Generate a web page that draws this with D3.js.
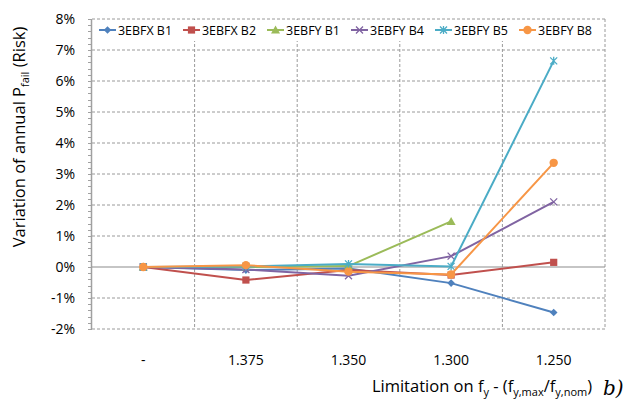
<!DOCTYPE html>
<html><head><meta charset="utf-8">
<script src="https://cdn.jsdelivr.net/npm/d3@7"></script>
<style>body{margin:0;background:#fff}svg{display:block}</style>
</head><body><svg id="c" width="623" height="405"></svg>
<script>
const categories = ["-", "1.375", "1.350", "1.300", "1.250"];
const seriesNames = ["3EBFX B1", "3EBFX B2", "3EBFY B1", "3EBFY B4", "3EBFY B5", "3EBFY B8"];
const s_3EBFX_B1 = [0, -0.10, -0.05, -0.52, -1.47];
const s_3EBFX_B2 = [0, -0.42, -0.10, -0.26, 0.15];
const s_3EBFY_B1 = [0, 0.00, 0.03, 1.47, null];
const s_3EBFY_B4 = [0, -0.08, -0.28, 0.35, 2.10];
const s_3EBFY_B5 = [0, 0.02, 0.10, 0.02, 6.65];
const s_3EBFY_B8 = [0, 0.06, -0.15, -0.24, 3.36];
const seriesValues = [s_3EBFX_B1, s_3EBFX_B2, s_3EBFY_B1, s_3EBFY_B4, s_3EBFY_B5, s_3EBFY_B8];
const yTicks = [-2, -1, 0, 1, 2, 3, 4, 5, 6, 7, 8];
const colors = ["#4F81BD", "#C0504D", "#9BBB59", "#8064A2", "#4BACC6", "#F79646"];
const markers = ["diamond", "square", "triangle", "x", "star", "circle"];

const svg = d3.select("#c");
const L = 92, R = 605, T = 19, B = 329;
const x = d3.scaleBand().domain(categories).range([L, R]);
const y = d3.scaleLinear().domain([-2, 8]).range([B, T]);
const font = "'Open Sans', 'Noto Sans', sans-serif";

// horizontal gridlines
svg.append("g").selectAll("line").data(yTicks.filter(d => d !== 0)).join("line")
  .attr("x1", L).attr("x2", R).attr("y1", d => y(d)).attr("y2", d => y(d))
  .attr("stroke", "#9a9a9a").attr("stroke-width", 1).attr("stroke-dasharray", "3,2");
// vertical gridlines
svg.append("g").selectAll("line").data(categories.slice(1).concat(["end"])).join("line")
  .attr("x1", (d, i) => L + x.bandwidth() * (i + 1)).attr("x2", (d, i) => L + x.bandwidth() * (i + 1))
  .attr("y1", T).attr("y2", B)
  .attr("stroke", "#9a9a9a").attr("stroke-width", 1).attr("stroke-dasharray", "3,2");

// left axis with minor ticks
const minor = d3.range(-2, 8.001, 0.2);
svg.append("g").selectAll("line").data(minor).join("line")
  .attr("x1", L - 4).attr("x2", L).attr("y1", d => Math.round(y(d)) + 0.5).attr("y2", d => Math.round(y(d)) + 0.5)
  .attr("stroke", "#a0a0a0").attr("stroke-width", 1);
svg.append("line").attr("x1", L - 0.5).attr("x2", L - 0.5).attr("y1", T).attr("y2", B)
  .attr("stroke", "#a0a0a0").attr("stroke-width", 1.5);
// zero axis line
svg.append("line").attr("x1", L).attr("x2", R).attr("y1", y(0)).attr("y2", y(0))
  .attr("stroke", "#8c8c8c").attr("stroke-width", 1.2);

// y tick labels
svg.append("g").selectAll("text").data(yTicks).join("text")
  .attr("x", 75).attr("y", d => y(d)).attr("dy", "0.35em").attr("text-anchor", "end")
  .attr("font-family", font).attr("font-size", 14).attr("fill", "#000")
  .text(d => d + "%");
// x tick labels
svg.append("g").selectAll("text").data(categories).join("text")
  .attr("x", d => x(d) + x.bandwidth() / 2).attr("y", 360).attr("dy", "0.35em").attr("text-anchor", "middle")
  .attr("font-family", font).attr("font-size", 14).attr("fill", "#000")
  .text(d => d);

// series
function drawMarker(g, type, color) {
  const s = 3.8;
  if (type === "diamond") g.append("path").attr("d", `M0,${-s}L${s},0L0,${s}L${-s},0Z`).attr("fill", color);
  else if (type === "square") g.append("rect").attr("x", -3.6).attr("y", -3.6).attr("width", 7.2).attr("height", 7.2).attr("fill", color);
  else if (type === "triangle") g.append("path").attr("d", `M0,-4.5L4.5,3.5L-4.5,3.5Z`).attr("fill", color);
  else if (type === "circle") g.append("circle").attr("r", 4.2).attr("fill", color);
  else if (type === "x") g.append("path").attr("d", "M-3.5,-3.5L3.5,3.5M-3.5,3.5L3.5,-3.5").attr("stroke", color).attr("stroke-width", 1.3);
  else if (type === "star") g.append("path").attr("d", "M-3.5,-3.5L3.5,3.5M-3.5,3.5L3.5,-3.5M0,-4L0,4").attr("stroke", color).attr("stroke-width", 1.3);
}
const line = d3.line().defined(d => d.v !== null).x(d => x(d.c) + x.bandwidth() / 2).y(d => y(d.v));
seriesValues.forEach((vals, i) => {
  const pts = vals.map((v, j) => ({ c: categories[j], v }));
  svg.append("path").datum(pts).attr("d", line).attr("fill", "none")
    .attr("stroke", colors[i]).attr("stroke-width", 2);
  pts.filter(p => p.v !== null).forEach(p => {
    const g = svg.append("g").attr("transform", `translate(${x(p.c) + x.bandwidth() / 2},${y(p.v)})`);
    drawMarker(g, markers[i], colors[i]);
  });
});

// legend
const leg = svg.append("g");
leg.append("rect").attr("x", 95).attr("y", 20).attr("width", 502).attr("height", 21).attr("fill", "#fff");
seriesNames.forEach((n, i) => {
  const g = leg.append("g").attr("transform", `translate(${99 + 84 * i},30)`);
  g.append("line").attr("x1", 0).attr("x2", 17).attr("stroke", colors[i]).attr("stroke-width", 2);
  const m = g.append("g").attr("transform", "translate(8.5,0)");
  drawMarker(m, markers[i], colors[i]);
  g.append("text").attr("x", 19).attr("dy", "0.36em").attr("font-family", font)
    .attr("font-size", 13).attr("fill", "#000").attr("textLength", 54).attr("lengthAdjust", "spacingAndGlyphs").text(n);
});

// y-axis title
const yt = svg.append("text").attr("transform", "translate(25,137) rotate(-90)").attr("text-anchor", "middle")
  .attr("font-family", font).attr("font-size", 16.5).attr("fill", "#000");
yt.append("tspan").text("Variation of annual P");
yt.append("tspan").attr("font-size", 11).attr("dy", 4).text("fail");
yt.append("tspan").attr("dy", -4).text(" (Risk)");

// x-axis title
const xt = svg.append("text").attr("x", 482).attr("y", 392).attr("text-anchor", "middle")
  .attr("font-family", font).attr("font-size", 16.5).attr("fill", "#000");
xt.append("tspan").text("Limitation on f");
xt.append("tspan").attr("font-size", 11).attr("dy", 4).text("y");
xt.append("tspan").attr("dy", -4).text(" - (f");
xt.append("tspan").attr("font-size", 11).attr("dy", 4).text("y,max");
xt.append("tspan").attr("dy", -4).text("/f");
xt.append("tspan").attr("font-size", 11).attr("dy", 4).text("y,nom");
xt.append("tspan").attr("dy", -4).text(")");
svg.append("text").attr("x", 603).attr("y", 395).attr("font-family", "'DejaVu Serif', 'Liberation Serif', serif")
  .attr("font-style", "italic").attr("font-size", 20).attr("fill", "#000").text("b)");
</script></body></html>
